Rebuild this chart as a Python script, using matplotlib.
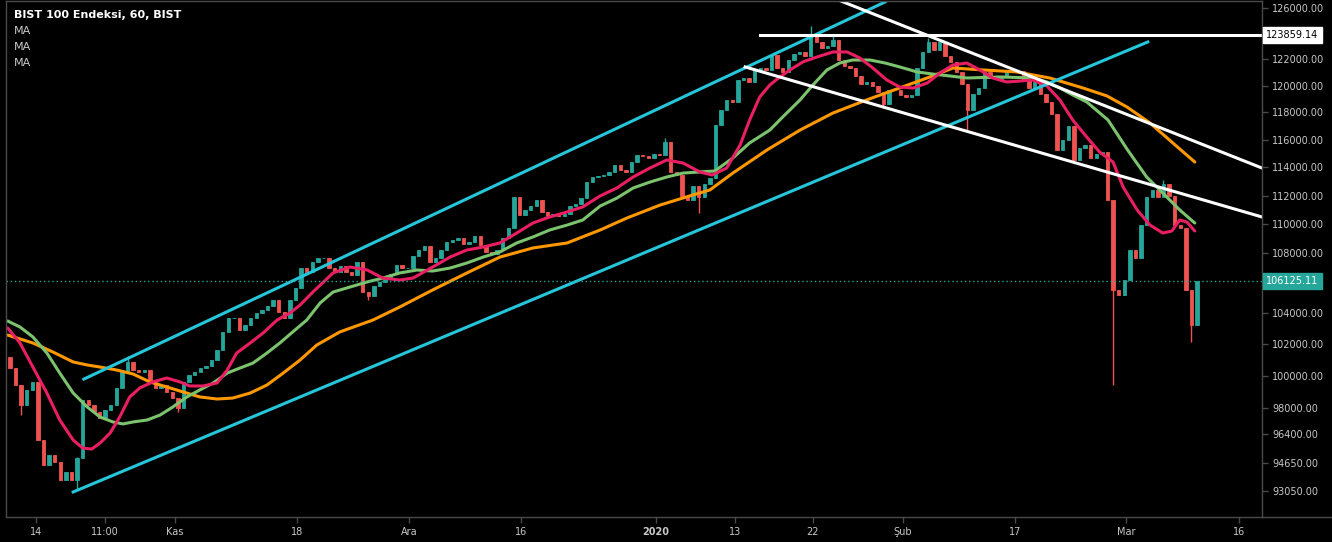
import numpy as np
import matplotlib.pyplot as plt
from matplotlib.ticker import FixedLocator, NullLocator, FixedFormatter
from matplotlib.lines import Line2D

# --- hourly BIST 100 candles, resampled to two bars per trading day ---
first_open = 101200
closes = [
    100500, 99430, 98190, 99120, 99620, 96050, 94550, 95150, 94730, 93670,
    94140, 93670, 94970, 98500, 98190, 97760, 97390, 97880, 98190, 99240,
    100250, 100880, 100370, 100250, 100370, 99620, 99240, 99430, 99000, 98620,
    98000, 99620, 100060, 100250, 100500, 100620, 101000, 101640, 102800, 103700,
    103700, 102930, 103250, 103700, 104030, 104230, 104490, 104880, 104100, 103700,
    104880, 105680, 107010, 106750, 107420, 107690, 107690, 107010, 106750, 107150,
    106750, 106550, 107420, 105410, 105150, 105810, 106080, 106340, 106610, 107220,
    107010, 107010, 107820, 108230, 108500, 107420, 107690, 108230, 108780, 108910,
    109050, 108640, 108780, 109190, 108570, 108100, 107960, 108230, 109050, 109740,
    111890, 110640, 110985, 111260, 111684, 110850, 110570, 110710, 110570, 110710,
    111260, 111400, 111820, 112950, 113310, 113380, 113450, 113670, 114170, 113810,
    113670, 114380, 114890, 114820, 114670, 114960, 114890, 115830, 113670, 113450,
    111970, 111684, 112670, 111890, 112810, 113240, 117070, 118180, 118925, 118780,
    120428, 120580, 120280, 121187, 121340, 121190, 122340, 121340, 121040, 121950,
    122410, 122570, 122260, 123800, 123340, 122870, 123030, 123490, 121950, 121490,
    121340, 120730, 120130, 120280, 119980, 119520, 118630, 119670, 119670, 119300,
    119150, 119300, 121340, 122570, 123340, 122720, 123340, 122260, 121800, 121040,
    120130, 118180, 119370, 119830, 121040, 120580, 120500, 120730, 121040, 121040,
    121110, 120430, 119830, 120280, 119370, 118780, 117880, 115250, 115970, 117000,
    114530, 115390, 115610, 114670, 114960, 115100, 111680, 105550, 105210, 106210,
    108230, 107690, 109940, 111890, 112390, 111890, 112810, 111970, 109940, 109740,
    105550, 103250, 106125.11,
]
high_idx = [12, 21, 117, 143, 147, 164, 206]
high_val = [95030, 101260, 116120, 124590, 123960, 123650, 113100]
low_idx = [2, 12, 30, 64, 123, 156, 171, 197, 211]
low_val = [97570, 93080, 97760, 104880, 110780, 118330, 116560, 99430, 102150]

# --- moving averages (bar index, value) ---
ma_fast_t = [-0.4, 1.8, 4.1, 6.6, 8.9, 11.3, 13.0, 14.6, 16.1, 17.9, 19.6, 21.4, 23.2, 25.5,
             28.0, 30.4, 32.1, 34.5, 37.0, 38.8, 40.5, 42.9, 45.2, 47.7, 50.0, 51.8, 54.1,
             57.7, 60.7, 63.8, 66.6, 69.6, 72.0, 75.5, 78.6, 81.6, 84.5, 87.5, 90.5, 93.4,
             96.4, 99.5, 102.3, 105.4, 108.4, 111.3, 114.3, 117.3, 120.2, 123.2, 125.4,
             128.0, 130.4, 132.1, 133.9, 135.7, 137.5, 139.3, 141.6, 144.1, 147.0, 149.5,
             151.8, 154.1, 156.6, 158.9, 161.3, 163.8, 166.1, 168.4, 170.9, 173.2, 175.5,
             178.0, 180.4, 182.7, 185.2, 187.5, 189.8, 192.3, 194.6, 197.0, 198.8, 201.3,
             203.6, 205.9, 207.5, 208.9, 210.2, 211.6]
ma_fast_v = [103060, 102090, 100560, 98930, 97270, 96050, 95570, 95510, 95870, 96480, 97450,
             98690, 99250, 99620, 99870, 99620, 99370, 99370, 99560, 100370, 101450, 102090,
             102730, 103570, 104030, 104550, 105410, 106680, 107080, 106880, 106340, 106210,
             106340, 107080, 107750, 108230, 108430, 108710, 109390, 110080, 110500, 110850,
             111200, 111970, 112530, 113310, 113950, 114530, 114310, 113670, 113450, 113950,
             115610, 117440, 119150, 120050, 120660, 121190, 121800, 122180, 122570, 122570,
             122100, 121340, 120430, 119900, 119820, 120200, 120960, 121570, 121720, 121190,
             120580, 120280, 120350, 120430, 119970, 118930, 117440, 116190, 115100, 114380,
             112600, 110990, 109940, 109390, 109530, 110290, 110150, 109530]

ma_mid_t = [-0.4, 1.8, 4.1, 6.6, 8.9, 11.3, 13.8, 16.1, 18.4, 20.2, 22.0, 24.5, 26.8, 29.1,
            31.6, 33.9, 36.3, 38.8, 41.1, 43.4, 45.9, 48.2, 50.5, 53.0, 55.4, 57.7, 60.7,
            63.8, 66.6, 69.6, 72.7, 75.5, 78.6, 81.6, 84.5, 87.5, 90.5, 93.4, 96.4, 99.5,
            102.3, 105.4, 108.4, 111.3, 114.3, 117.3, 120.2, 123.2, 125.9, 129.1, 132.1,
            135.7, 138.0, 141.1, 143.4, 145.9, 148.2, 150.5, 153.6, 156.3, 158.9, 162.0,
            164.8, 167.9, 170.9, 176.8, 182.7, 185.2, 187.5, 189.8, 192.3, 196.1, 199.6,
            203.0, 205.9, 208.9, 211.6]
ma_mid_v = [103510, 103120, 102480, 101450, 100180, 98930, 98070, 97450, 97150, 97030, 97150,
            97270, 97570, 98070, 98690, 99120, 99560, 100180, 100500, 100810, 101450, 102090,
            102800, 103570, 104690, 105410, 105740, 106080, 106340, 106680, 106880, 106810,
            107010, 107350, 107750, 108100, 108710, 109120, 109600, 109940, 110290, 111260,
            111820, 112530, 112950, 113310, 113590, 113670, 113740, 114670, 115760, 116700,
            117660, 118930, 120050, 121190, 121720, 121950, 121950, 121720, 121420, 121040,
            120880, 120730, 120580, 120660, 120580, 120280, 119830, 119300, 118780, 117440,
            115250, 113310, 112170, 110990, 110080]

ma_slow_t = [-0.4, 4.1, 7.7, 11.3, 13.8, 16.1, 19.1, 22.0, 25.0, 28.0, 30.9, 33.9, 37.0, 39.8,
             42.9, 45.9, 48.8, 51.8, 54.8, 58.9, 64.8, 69.6, 75.5, 81.6, 87.5, 93.4, 99.5,
             105.4, 110.2, 116.1, 121.4, 125.0, 129.1, 135.2, 141.1, 147.0, 153.0, 158.9,
             164.3, 168.4, 173.8, 179.8, 185.7, 191.6, 195.9, 199.5, 203.6, 207.7, 211.6]
ma_slow_v = [102600, 102090, 101510, 100880, 100690, 100560, 100370, 100120, 99620, 99310,
             99000, 98690, 98560, 98620, 98930, 99430, 100180, 101000, 101960, 102800, 103570,
             104420, 105550, 106680, 107750, 108370, 108710, 109600, 110430, 111330, 111970,
             112390, 113590, 115250, 116700, 117960, 118930, 119830, 120660, 121340, 121190,
             121040, 120580, 119830, 119230, 118400, 117220, 115750, 114380]

# --- drawn trend lines: (t0, p0, t1, p1) ---
channel_lines = [(13.2, 99800, 156.3, 126480), (11.3, 92970, 203.2, 123340)]
white_lines = [(133.9, 123859.14, 223.6, 123859.14), (147.9, 126640, 223.6, 113950),
               (131.3, 121420, 223.6, 110500)]
last_price = 106125.11
level_price = 123859.14

tick_t = [4.6, 17.0, 29.5, 51.3, 71.3, 91.3, 115.4, 129.5, 143.4, 159.5, 179.5, 199.3, 219.5]
tick_lbl = ['14', '11:00', 'Kas', '18', 'Ara', '16', '2020', '13', '22', 'Şub', '17', 'Mar', '16']
price_ticks = [126000, 122000, 120000, 118000, 116000, 114000, 112000, 110000, 108000,
               104000, 102000, 100000, 98000, 96400, 94650, 93050]

UP, DOWN = '#26a69a', '#ef5350'
GRID = '#4a4a4a'
TXT = '#c8c8c8'

W, H = 1332, 542
fig = plt.figure(figsize=(W / 100, H / 100), dpi=100, facecolor='black')
ax = fig.add_axes([6 / W, 1 - 517 / H, (1262 - 6) / W, (517 - 1) / H], facecolor='black')
ax.set_yscale('log')

t = np.arange(len(closes))
c = np.array(closes, float)
o = np.concatenate([[first_open], c[:-1]])
hi = np.maximum(o, c)
lo = np.minimum(o, c)
hi[high_idx] = high_val
lo[low_idx] = low_val
col = np.where(c >= o, UP, DOWN)
ax.vlines(t, lo, hi, colors=col, lw=1)
ax.bar(t, c - o, bottom=o, width=0.62, color=col, edgecolor=col, lw=0.6)

ax.plot(ma_slow_t, ma_slow_v, color='#ff9800', lw=2.2, solid_capstyle='round')
ax.plot(ma_mid_t, ma_mid_v, color='#7cc36e', lw=2.2, solid_capstyle='round')
ax.plot(ma_fast_t, ma_fast_v, color='#e91e63', lw=2.2, solid_capstyle='round')

for t0, p0, t1, p1 in channel_lines:
    ax.plot([t0, t1], [p0, p1], color='#26c6da', lw=2.2)
for t0, p0, t1, p1 in white_lines:
    ax.plot([t0, t1], [p0, p1], color='white', lw=2.2)

ax.axhline(last_price, color=UP, lw=1, ls=(0, (1, 2)))

ax.set_xlim(-0.7, 223.6)
ax.set_ylim(91520, 126555)

ax.yaxis.tick_right()
ax.yaxis.set_major_locator(FixedLocator(price_ticks))
ax.yaxis.set_major_formatter(FixedFormatter(['%.2f' % v for v in price_ticks]))
ax.yaxis.set_minor_locator(NullLocator())
ax.set_xticks(tick_t)
ax.set_xticklabels(tick_lbl)
ax.xaxis.set_minor_locator(NullLocator())
ax.tick_params(axis='both', colors=GRID, labelcolor=TXT, labelsize=7, length=4, width=1)
ax.tick_params(axis='x', pad=3)
for lab in ax.get_xticklabels():
    if lab.get_text() == '2020':
        lab.set_fontweight('bold')
for s in ax.spines.values():
    s.set_color(GRID)
    s.set_linewidth(1)

# value labels on the price scale
tr = ax.get_yaxis_transform()
ax.text(1.0035, level_price, '%.2f' % level_price, transform=tr, fontsize=7, color='black',
        va='center', ha='left', bbox=dict(boxstyle='square,pad=0.3', fc='white', ec='white'))
ax.text(1.0035, last_price, '%.2f' % last_price, transform=tr, fontsize=7, color='white',
        va='center', ha='left', bbox=dict(boxstyle='square,pad=0.3', fc=UP, ec=UP))

fig.add_artist(Line2D([1262 / W, 1], [1 - 517 / H] * 2, color=GRID, lw=1))

fig.text(14 / W, 1 - 15 / H, 'BIST 100 Endeksi, 60, BIST', color='white', fontsize=8,
         fontweight='bold', va='center')
for k in range(3):
    fig.text(14 / W, 1 - (31 + 16 * k) / H, 'MA', color=TXT, fontsize=8, va='center')

fig.savefig('out.png', dpi=100, facecolor='black')
